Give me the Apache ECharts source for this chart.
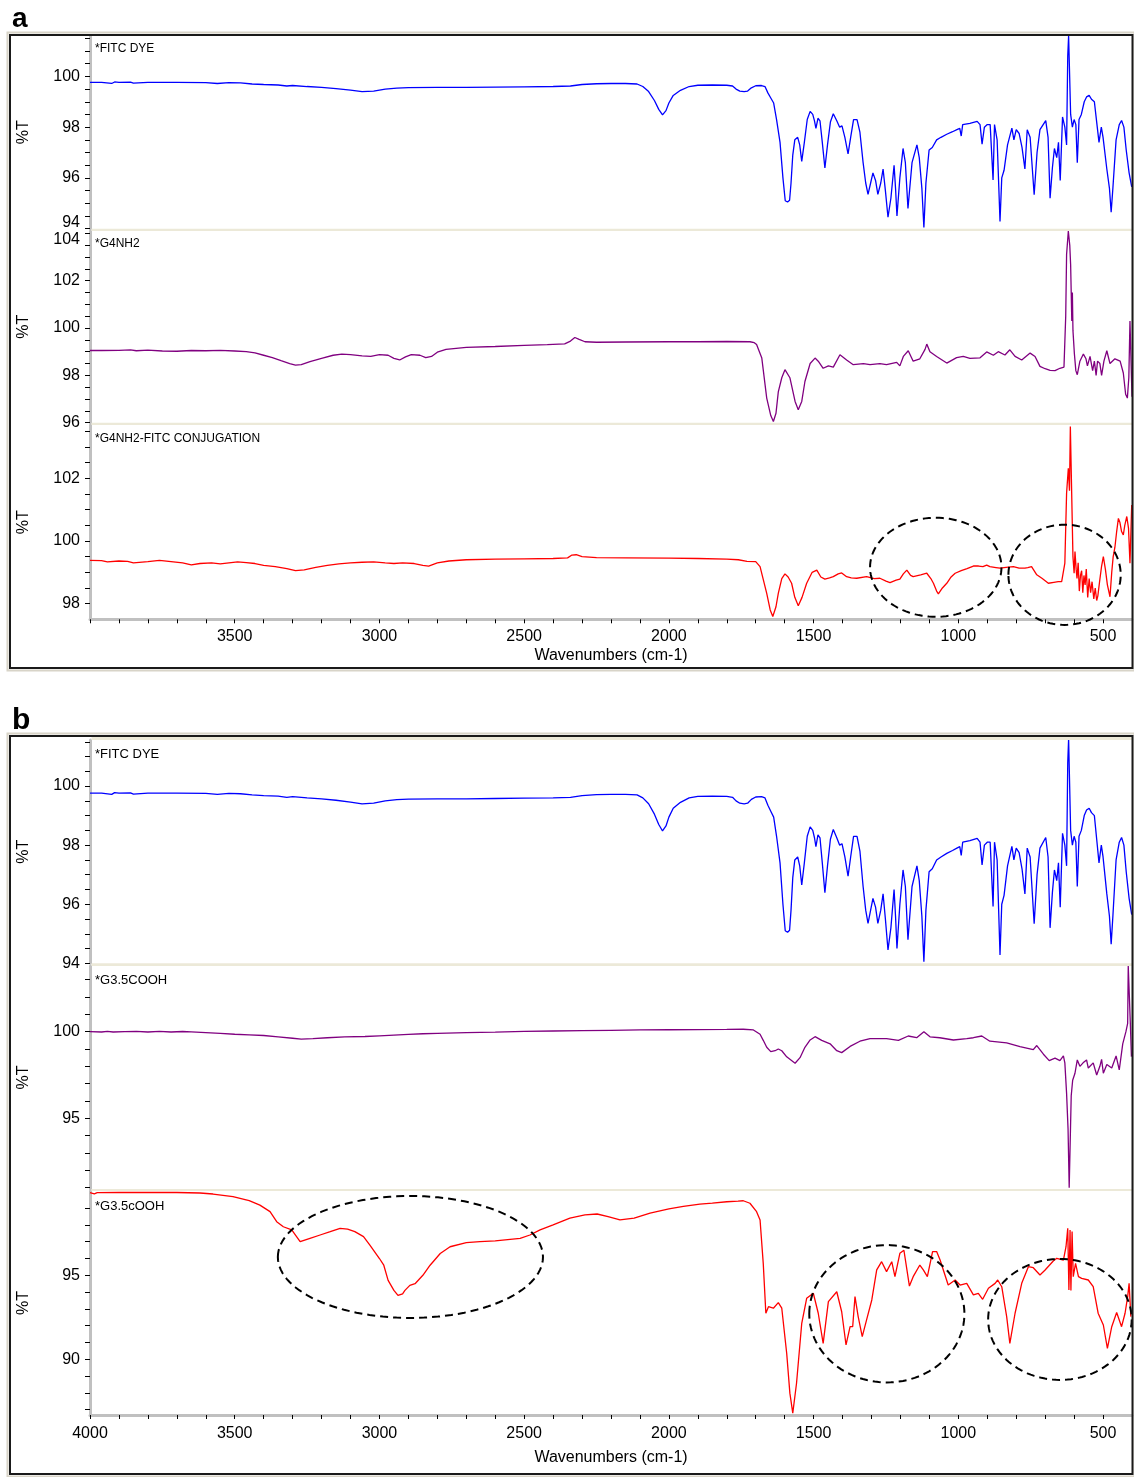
<!DOCTYPE html>
<html><head><meta charset="utf-8">
<script src="https://cdn.jsdelivr.net/npm/echarts@6/dist/echarts.min.js"></script>
<style>html,body{margin:0;padding:0;background:#fff}#c{width:1134px;height:1477px}</style>
</head><body><div id="c"></div>
<script>
// ---------- DATA (wavenumber cm-1, %T) ----------
const fitcDye = [[4000,99.76],[3960,99.76],[3925,99.72],[3915,99.78],[3900,99.76],[3860,99.77],[3850,99.73],[3800,99.76],[3700,99.76],[3600,99.75],[3560,99.72],[3520,99.75],[3480,99.74],[3440,99.7],[3400,99.68],[3350,99.66],[3320,99.62],[3300,99.64],[3250,99.6],[3200,99.57],[3150,99.52],[3100,99.46],[3060,99.4],[3020,99.42],[2980,99.5],[2940,99.54],[2900,99.56],[2800,99.57],[2700,99.57],[2600,99.58],[2500,99.59],[2400,99.6],[2340,99.62],[2300,99.68],[2250,99.71],[2200,99.72],[2150,99.72],[2110,99.7],[2090,99.6],[2070,99.4],[2050,99.05],[2035,98.7],[2022,98.48],[2010,98.65],[2000,98.95],[1985,99.25],[1960,99.45],[1930,99.6],[1900,99.65],[1850,99.66],[1800,99.65],[1780,99.62],[1768,99.5],[1755,99.42],[1740,99.4],[1728,99.42],[1715,99.55],[1700,99.63],[1680,99.64],[1668,99.6],[1658,99.35],[1648,99.15],[1638,98.95],[1628,98.3],[1616,97.4],[1606,96.0],[1598,95.1],[1590,95.05],[1583,95.12],[1578,95.8],[1572,96.9],[1565,97.5],[1555,97.6],[1548,97.3],[1541,96.65],[1532,97.4],[1522,98.3],[1512,98.62],[1503,98.5],[1497,98.25],[1492,97.95],[1485,98.35],[1478,98.25],[1470,97.4],[1461,96.39],[1452,97.3],[1442,98.2],[1432,98.53],[1420,98.25],[1410,98.0],[1402,98.05],[1392,97.6],[1381,96.95],[1372,97.6],[1362,98.3],[1350,98.3],[1340,97.8],[1329,96.6],[1320,95.8],[1312,95.35],[1303,95.8],[1295,96.2],[1286,95.9],[1278,95.35],[1268,95.8],[1260,96.35],[1252,95.5],[1243,94.45],[1233,95.2],[1222,96.5],[1217,95.6],[1212,94.5],[1202,96.0],[1191,97.16],[1183,96.6],[1174,94.8],[1160,96.6],[1143,97.3],[1135,96.8],[1126,95.6],[1119,94.05],[1112,95.8],[1101,97.1],[1090,97.2],[1075,97.5],[1060,97.6],[1040,97.72],[1020,97.82],[1005,97.9],[995,97.95],[990,97.65],[985,98.1],[960,98.15],[935,98.23],[925,98.1],[918,97.33],[910,98.0],[900,98.1],[890,98.1],[885,97.0],[880,95.92],[875,98.1],[866,97.5],[856,94.28],[850,96.0],[842,96.3],[830,97.3],[815,97.96],[808,97.5],[800,97.9],[790,97.75],[780,97.2],[770,96.35],[762,97.9],[752,97.6],[738,95.34],[728,97.0],[718,97.9],[698,98.26],[690,97.6],[683,95.2],[675,96.4],[668,97.16],[660,96.8],[654,97.4],[648,95.9],[640,98.4],[632,98.0],[626,97.3],[622,100.8],[619,101.6],[615,101.6],[612,98.5],[606,98.0],[600,98.3],[594,98.1],[589,96.6],[583,98.3],[575,98.5],[565,99.0],[557,99.19],[548,99.25],[540,99.1],[530,99.0],[522,98.2],[514,97.4],[506,98.0],[500,97.6],[487,96.35],[478,95.6],[472,94.65],[466,95.6],[455,97.5],[444,98.1],[436,98.26],[428,98.0],[420,97.1],[410,96.2],[401,95.65]];

const g4nh2 = [[4000,99.05],[3960,99.05],[3900,99.06],[3860,99.08],[3840,99.04],[3800,99.07],[3750,99.03],[3700,99.02],[3650,99.05],[3600,99.04],[3550,99.06],[3500,99.03],[3460,99.0],[3430,98.95],[3400,98.85],[3370,98.75],[3340,98.62],[3310,98.5],[3290,98.43],[3270,98.45],[3240,98.58],[3200,98.72],[3160,98.85],[3130,98.9],[3100,98.88],[3060,98.82],[3030,98.8],[3000,98.88],[2970,98.85],[2950,98.72],[2930,98.65],[2910,98.78],[2890,98.88],[2860,98.85],[2840,98.75],[2820,98.8],[2800,98.98],[2770,99.1],[2700,99.18],[2600,99.22],[2500,99.27],[2420,99.3],[2360,99.33],[2340,99.45],[2325,99.6],[2310,99.52],[2290,99.42],[2250,99.4],[2150,99.41],[2000,99.42],[1900,99.42],[1800,99.43],[1720,99.42],[1705,99.38],[1697,99.3],[1679,98.73],[1662,97.04],[1648,96.3],[1639,96.05],[1630,96.4],[1622,97.3],[1610,97.9],[1599,98.24],[1582,97.9],[1564,96.9],[1553,96.55],[1541,96.9],[1530,97.74],[1512,98.5],[1495,98.73],[1484,98.6],[1467,98.3],[1449,98.4],[1432,98.35],[1409,98.87],[1386,98.65],[1363,98.45],[1328,98.5],[1305,98.45],[1271,98.5],[1248,98.45],[1213,98.55],[1202,98.4],[1190,98.8],[1173,99.04],[1156,98.6],[1133,98.7],[1115,99.1],[1109,99.32],[1098,99.0],[1075,98.8],[1040,98.52],[1006,98.75],[983,98.8],[960,98.72],[925,98.74],[902,98.99],[879,98.85],[862,99.0],[839,98.86],[822,99.08],[804,98.8],[781,98.65],[752,98.94],[735,98.8],[718,98.38],[700,98.28],[683,98.21],[666,98.2],[649,98.3],[635,98.35],[629,100.5],[626,103.1],[620,104.1],[615,103.5],[612,102.67],[608,100.3],[606,101.5],[604,99.9],[599,98.9],[594,98.2],[589,98.03],[580,98.6],[568,98.9],[559,98.7],[554,98.4],[545,98.8],[536,98.2],[530,98.6],[524,98.0],[519,98.6],[511,98.5],[505,98.0],[497,98.6],[487,99.04],[476,98.5],[459,98.7],[441,98.6],[430,98.1],[422,97.2],[416,97.04],[411,97.9],[407,100.3],[404,100.3],[400,97.1]];

const g4nh2Fitc = [[4000,99.38],[3960,99.37],[3940,99.33],[3900,99.36],[3870,99.35],[3850,99.3],[3800,99.34],[3760,99.38],[3720,99.34],[3680,99.3],[3650,99.24],[3620,99.28],[3580,99.3],[3550,99.27],[3520,99.3],[3490,99.33],[3460,99.31],[3430,99.28],[3400,99.22],[3360,99.18],[3320,99.12],[3290,99.05],[3260,99.08],[3220,99.16],[3180,99.22],[3140,99.27],[3100,99.3],[3060,99.32],[3020,99.33],[2980,99.3],[2950,99.28],[2920,99.3],[2880,99.28],[2850,99.22],[2830,99.2],[2800,99.3],[2760,99.36],[2700,99.4],[2600,99.42],[2500,99.43],[2400,99.44],[2350,99.46],[2335,99.55],[2320,99.56],[2300,99.5],[2250,99.47],[2150,99.46],[2000,99.45],[1900,99.44],[1800,99.42],[1760,99.4],[1730,99.35],[1700,99.34],[1685,99.18],[1662,98.33],[1650,97.8],[1641,97.59],[1630,97.9],[1622,98.33],[1610,98.8],[1599,98.95],[1588,98.85],[1576,98.65],[1565,98.2],[1553,97.93],[1540,98.2],[1524,98.65],[1505,99.0],[1489,99.07],[1475,98.85],[1461,98.78],[1445,98.82],[1432,98.86],[1415,98.95],[1403,98.98],[1386,98.86],[1370,98.82],[1351,98.81],[1317,98.86],[1290,98.8],[1271,98.81],[1250,98.72],[1236,98.67],[1215,98.75],[1202,98.78],[1190,98.95],[1178,99.07],[1165,98.9],[1156,98.86],[1130,98.92],[1109,98.97],[1095,98.8],[1086,98.65],[1075,98.4],[1069,98.31],[1055,98.5],[1040,98.65],[1025,98.85],[1011,98.97],[990,99.05],[970,99.12],[948,99.2],[930,99.2],[915,99.18],[902,99.23],[891,99.18],[870,99.15],[856,99.13],[835,99.16],[810,99.18],[790,99.13],[770,99.13],[760,99.15],[747,99.18],[729,98.92],[710,98.8],[689,98.65],[670,98.68],[655,98.7],[643,98.7],[632,99.29],[626,101.52],[620,102.32],[616,101.6],[613,103.65],[607,103.65],[604,99.5],[600,98.97],[597,99.66],[593,99.1],[590,98.8],[586,99.3],[582,98.4],[578,98.9],[574,99.05],[570,98.35],[566,98.9],[562,98.6],[558,99.1],[553,98.2],[548,98.8],[543,98.35],[538,98.7],[532,98.15],[527,98.5],[522,98.1],[518,98.25],[512,98.7],[505,99.2],[499,99.5],[492,99.1],[485,98.6],[476,98.22],[470,99.0],[465,99.5],[459,99.8],[453,100.3],[447,100.72],[442,100.6],[436,100.3],[430,100.19],[425,100.5],[418,100.78],[412,100.4],[407,99.29],[401,101.15]];

const g35Cooh = [[4000,100.0],[3960,99.98],[3940,100.02],[3920,99.98],[3880,100.0],[3840,100.02],[3800,99.98],[3760,100.02],[3720,99.98],[3680,100.01],[3650,99.99],[3600,99.95],[3550,99.9],[3500,99.85],[3450,99.82],[3400,99.78],[3350,99.7],[3300,99.62],[3270,99.57],[3230,99.6],[3180,99.65],[3120,99.7],[3050,99.72],[3000,99.76],[2950,99.8],[2900,99.84],[2850,99.88],[2800,99.9],[2700,99.94],[2600,99.97],[2500,100.02],[2400,100.04],[2300,100.06],[2200,100.08],[2100,100.1],[2000,100.11],[1900,100.12],[1800,100.13],[1743,100.14],[1708,100.1],[1685,99.85],[1674,99.5],[1662,99.1],[1648,98.85],[1633,98.9],[1622,99.0],[1610,98.9],[1593,98.55],[1564,98.18],[1547,98.5],[1530,99.1],[1512,99.52],[1495,99.71],[1472,99.5],[1443,99.3],[1420,98.9],[1403,98.79],[1374,99.15],[1340,99.45],[1305,99.6],[1248,99.6],[1207,99.5],[1173,99.75],[1144,99.65],[1119,100.0],[1098,99.7],[1064,99.65],[1017,99.52],[971,99.6],[948,99.65],[919,99.75],[891,99.45],[833,99.35],[787,99.14],[741,98.96],[729,99.2],[706,98.7],[686,98.33],[666,98.47],[649,98.33],[637,98.6],[632,98.2],[626,96.44],[621,94.42],[617,91.0],[613,90.95],[610,96.3],[605,97.2],[597,97.6],[589,98.37],[580,98.0],[569,98.2],[557,98.37],[551,97.9],[545,98.0],[534,98.2],[522,97.5],[511,98.0],[505,98.4],[499,97.6],[487,98.1],[470,97.9],[455,98.6],[444,97.79],[432,99.3],[421,100.0],[415,100.48],[413,103.8],[410,103.8],[406,100.6],[402,98.56]];

const g35cOoh = [[4000,99.92],[3985,99.85],[3975,99.92],[3900,99.93],[3800,99.93],[3700,99.93],[3620,99.9],[3575,99.84],[3506,99.68],[3450,99.45],[3413,99.18],[3378,98.79],[3355,98.19],[3332,97.89],[3303,97.7],[3274,97.0],[3240,97.2],[3205,97.4],[3170,97.6],[3136,97.8],[3110,97.75],[3085,97.6],[3055,97.3],[3033,96.8],[3000,96.0],[2985,95.6],[2970,94.7],[2950,94.1],[2936,93.8],[2920,93.9],[2912,94.1],[2895,94.4],[2877,94.5],[2850,95.0],[2825,95.6],[2790,96.3],[2756,96.7],[2700,96.95],[2653,97.0],[2600,97.05],[2514,97.2],[2480,97.4],[2445,97.7],[2400,98.0],[2342,98.4],[2290,98.6],[2248,98.65],[2210,98.5],[2169,98.3],[2120,98.4],[2065,98.7],[2000,98.95],[1950,99.1],[1893,99.24],[1850,99.3],[1800,99.38],[1761,99.42],[1743,99.44],[1720,99.29],[1697,98.79],[1685,98.29],[1674,95.71],[1665,92.74],[1656,93.13],[1639,93.04],[1622,93.37],[1610,93.04],[1593,90.36],[1582,87.98],[1572,86.79],[1559,88.57],[1541,92.14],[1524,93.63],[1501,93.93],[1484,92.74],[1467,90.95],[1449,93.43],[1420,94.02],[1403,92.83],[1388,90.85],[1374,91.94],[1365,91.94],[1357,93.73],[1346,92.54],[1332,91.35],[1317,92.34],[1299,93.53],[1282,95.32],[1265,95.81],[1248,95.22],[1230,95.81],[1219,94.92],[1202,96.31],[1188,96.49],[1169,94.36],[1156,94.92],[1133,95.61],[1121,95.32],[1107,94.92],[1089,96.41],[1075,96.41],[1063,95.91],[1035,94.42],[1011,94.72],[994,94.42],[971,94.52],[948,93.83],[931,93.93],[916,93.57],[896,94.23],[873,94.52],[864,94.72],[850,94.32],[833,92.54],[822,90.95],[804,92.74],[781,94.52],[758,95.51],[741,95.45],[718,95.02],[701,95.3],[672,95.85],[660,96.01],[637,95.9],[628,96.7],[622,97.8],[618,94.13],[614,97.7],[611,94.1],[607,97.6],[603,94.92],[595,95.71],[585,94.92],[574,94.82],[551,94.72],[534,94.32],[517,92.74],[499,92.04],[485,90.65],[470,91.94],[453,92.78],[436,91.94],[424,92.74],[415,93.73],[410,94.52],[404,92.54]];

// dashed annotation ellipses: [centre wavenumber, centre %T, radius in cm-1, radius in %T]
const ellipsesA = [[1078, 99.16, 227, 1.58], [633, 98.92, 194, 1.6]];
const ellipsesB = [[2893, 96.09, 458, 3.63], [1247, 92.71, 268, 4.09], [649, 92.37, 248, 3.6]];

// tick labels
const xLabelsA = [3500, 3000, 2500, 2000, 1500, 1000, 500];
const xLabelsB = [4000, 3500, 3000, 2500, 2000, 1500, 1000, 500];
const yLabelsA1 = [94, 96, 98, 100];
const yLabelsA2 = [96, 98, 100, 102, 104];
const yLabelsA3 = [98, 100, 102];
const yLabelsB1 = [94, 96, 98, 100];
const yLabelsB2 = [95, 100];
const yLabelsB3 = [90, 95];

const sampleNamesA = ['*FITC DYE', '*G4NH2', '*G4NH2-FITC CONJUGATION'];
const sampleNamesB = ['*FITC DYE', '*G3.5COOH', '*G3.5cOOH'];

// ---------- LAYOUT ----------
function range(a, b, s) { const r = []; for (let v = a; v <= b + 1e-9; v += s) r.push(+v.toFixed(2)); return r; }
const xTicks = range(400, 4000, 100);
const FONT = '"Liberation Sans", Arial, Helvetica, sans-serif';
const BLUE = '#0000ff', PURPLE = '#800080', RED = '#ff0000';

const defs = [
  {panel:'a', top:36,   height:192.7, min:94,    max:101.59, labels:yLabelsA1, ticks:range(94,101.5,0.5), data:fitcDye,   color:BLUE,   name:sampleNamesA[0], fs:12, dy:14.2, bottom:false, edge:{94:'up'}},
  {panel:'a', top:231,  height:191.7, min:96,    max:104.1,  labels:yLabelsA2, ticks:range(96,104,0.5),   data:g4nh2,     color:PURPLE, name:sampleNamesA[1], fs:12, dy:14.2, bottom:false, edge:{104:'dn'}},
  {panel:'a', top:425,  height:194.3, min:97.5,  max:103.7,  labels:yLabelsA3, ticks:range(98,103.5,0.5),  data:g4nh2Fitc, color:RED,    name:sampleNamesA[2], fs:12, dy:14.8, bottom:true,  xl:xLabelsA, margin:9, gap:28, ell:ellipsesA},
  {panel:'b', top:740,  height:223.3, min:94,    max:101.56, labels:yLabelsB1, ticks:range(94,101.5,0.5), data:fitcDye,   color:BLUE,   name:sampleNamesB[0], fs:13, dy:15.3, bottom:false},
  {panel:'b', top:966,  height:223,   min:90.92, max:103.79, labels:yLabelsB2, ticks:range(91,103,1),     data:g35Cooh,   color:PURPLE, name:sampleNamesB[1], fs:13, dy:16,   bottom:false},
  {panel:'b', top:1191, height:224,   min:86.68, max:100.02, labels:yLabelsB3, ticks:range(87,99,1),      data:g35cOoh,   color:RED,    name:sampleNamesB[2], fs:13, dy:17,   bottom:true,  xl:xLabelsB, margin:11, gap:35, ell:ellipsesB}
];

const LEFT = 90, WIDTH = 1042;
const grids = [], xAxes = [], yAxes = [], series = [], graphics = [];
const labelStyle = {fontSize:16, fontFamily:FONT, color:'#000'};

defs.forEach((d, i) => {
  grids.push({left:LEFT, top:d.top, width:WIDTH, height:d.height, containLabel:false});
  xAxes.push({
    gridIndex:i, type:'value', min:400, max:4000, inverse:true, show:d.bottom,
    axisLine:{show:true, onZero:false, lineStyle:{color:'#c0c0c0', width:3}},
    axisTick:{show:true, customValues:xTicks, length:4, lineStyle:{color:'#000', width:1}},
    axisLabel:{customValues:d.xl || [], margin:d.margin || 8, ...labelStyle, formatter:v => String(v)},
    splitLine:{show:false},
    name:'Wavenumbers (cm-1)', nameLocation:'middle', nameGap:d.gap || 30,
    nameTextStyle:{...labelStyle}
  });
  const rich = {
    up:{...labelStyle, padding:[0,0,13,0]},
    dn:{...labelStyle, padding:[13,0,0,0]}
  };
  yAxes.push({
    gridIndex:i, type:'value', min:d.min, max:d.max,
    axisLine:{show:true, onZero:false, lineStyle:{color:'#c0c0c0', width:3}},
    axisTick:{show:true, customValues:d.ticks, length:5, lineStyle:{color:'#000', width:1}},
    axisLabel:{customValues:d.labels, margin:10, ...labelStyle, rich,
      formatter: v => (d.edge && d.edge[v]) ? '{' + d.edge[v] + '|' + v + '}' : String(v)},
    splitLine:{show:false},
    name:'%T', nameLocation:'middle', nameGap:58, nameRotate:90,
    nameTextStyle:{...labelStyle}
  });
  series.push({
    type:'line', xAxisIndex:i, yAxisIndex:i, data:d.data, showSymbol:false, symbol:'none',
    lineStyle:{color:d.color, width:1.3}, itemStyle:{color:d.color}, silent:true, clip:true,
    animation:false
  });
  if (d.ell) {
    series.push({
      type:'custom', xAxisIndex:i, yAxisIndex:i, data:d.ell, clip:false, silent:true, z:10,
      encode:{x:0, y:1},
      renderItem:(params, api) => {
        const cx = api.value(0), cy = api.value(1), rx = api.value(2), ry = api.value(3);
        const pts = [];
        for (let k = 0; k <= 120; k++) {
          const t = k / 120 * 2 * Math.PI;
          pts.push(api.coord([cx + rx * Math.cos(t), cy + ry * Math.sin(t)]));
        }
        return {type:'polyline', shape:{points:pts}, style:{stroke:'#000', fill:null, lineWidth:2, lineDash:[8,5]}};
      }
    });
  }
  graphics.push({type:'text', left:LEFT + 5, top:d.top + d.dy - d.fs * 0.6, z:50,
    style:{text:d.name, font:d.fs + 'px ' + FONT, fill:'#000'}});
});

// separator bands between stacked plots
for (let i = 0; i < defs.length - 1; i++) {
  if (defs[i].panel !== defs[i + 1].panel) continue;
  const y0 = defs[i].top + defs[i].height, y1 = defs[i + 1].top;
  graphics.push({type:'rect', z:40, shape:{x:LEFT + 1.5, y:y0, width:WIDTH - 1.5, height:y1 - y0}, style:{fill:'#ece9d8'}});
}
graphics.push({type:'rect', z:40, shape:{x:LEFT + 1.5, y:737, width:WIDTH - 1.5, height:3}, style:{fill:'#ece9d8'}});

// panel frames
[[35, 633], [736, 738]].forEach(([y, h]) => {
  graphics.push({type:'rect', z:1, shape:{x:7.5, y:y - 2.5, width:1127, height:h + 5}, style:{fill:null, stroke:'#d8d4c8', lineWidth:2}});
  graphics.push({type:'rect', z:45, shape:{x:10, y:y, width:1122.5, height:h}, style:{fill:null, stroke:'#1a1a1a', lineWidth:2}});
});

// panel letters
graphics.push({type:'text', left:12, top:5, z:50, style:{text:'a', font:'bold 28px ' + FONT, fill:'#000'}});
graphics.push({type:'text', left:12, top:706, z:50, style:{text:'b', font:'bold 30px ' + FONT, fill:'#000'}});

const chart = echarts.init(document.getElementById('c'), null, {renderer:'canvas'});
chart.setOption({
  animation:false,
  backgroundColor:'#fff',
  grid:grids, xAxis:xAxes, yAxis:yAxes, series, graphic:graphics
});
</script>
</body></html>
